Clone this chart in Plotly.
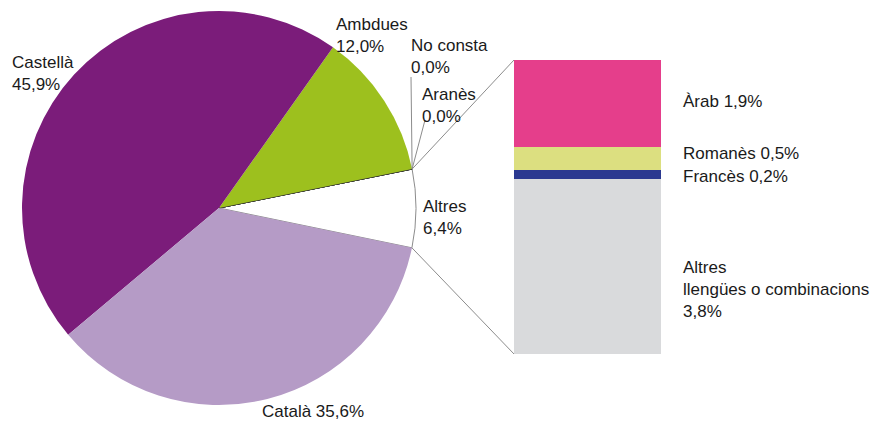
import math
import plotly.graph_objects as go

# pie data (order as drawn, counterclockwise from the "Altres" slice)
pie_labels = ["Altres", "Aranès", "No consta", "Ambdues", "Castellà", "Català"]
pie_values = [6.4, 0.0, 0.0, 12.0, 45.9, 35.6]
pie_colors = ["#ffffff", "#ffffff", "#ffffff", "#9dc01e", "#7b1c7a", "#b59bc6"]

# breakdown of "Altres" (bottom to top)
bar_labels = ["Altres llengües o combinacions", "Francès", "Romanès", "Àrab"]
bar_values = [3.8, 0.2, 0.5, 1.9]
bar_colors = ["#d9dadc", "#2b3990", "#dcdf80", "#e53e8b"]

W, H = 884, 421
FONT = "Liberation Sans, Arial, sans-serif"

# pie geometry in pixels
cx, cy, r = 219, 208, 197
rotation = 78.6

# bar box in pixels
bx0, bx1, by0, by1 = 514, 661, 60, 354


def px(x):
    return x / W


def py(y):
    return 1 - y / H


fig = go.Figure()

fig.add_trace(go.Pie(
    labels=pie_labels,
    values=pie_values,
    sort=False,
    direction="counterclockwise",
    rotation=rotation,
    textinfo="none",
    marker=dict(colors=pie_colors,
                line=dict(color=["#8c8c8c", "#333333", "#333333", "#ffffff", "#ffffff", "#ffffff"],
                          width=[1, 1, 1, 0, 0, 0])),
    domain=dict(x=[px(cx - r), px(cx + r)], y=[py(cy + r), py(cy - r)]),
    hoverinfo="label+value",
))

for lab, val, col in zip(bar_labels, bar_values, bar_colors):
    fig.add_trace(go.Bar(x=[""], y=[val], name=lab, marker=dict(color=col, line=dict(width=0)),
                         width=1, xaxis="x", yaxis="y"))

total = sum(bar_values)

# edges of the "Altres" slice, from the pie values
a_start = math.radians(rotation)
a_end = a_start + 2 * math.pi * pie_values[0] / sum(pie_values)
top_pt = (cx + r * math.sin(a_start), cy - r * math.cos(a_start))
bot_pt = (cx + r * math.sin(a_end), cy - r * math.cos(a_end))

line_style = dict(color="#8c8c8c", width=1)
shapes = [
    dict(type="line", xref="paper", yref="paper", x0=px(top_pt[0]), y0=py(top_pt[1]),
         x1=px(bx0), y1=py(by0), line=line_style),
    dict(type="line", xref="paper", yref="paper", x0=px(bot_pt[0]), y0=py(bot_pt[1]),
         x1=px(bx0), y1=py(by1), line=line_style),
    # leader lines for the zero slices
    dict(type="line", xref="paper", yref="paper", x0=px(top_pt[0]), y0=py(top_pt[1]),
         x1=px(411), y1=py(77), line=line_style),
    dict(type="line", xref="paper", yref="paper", x0=px(top_pt[0]), y0=py(top_pt[1]),
         x1=px(425), y1=py(120), line=line_style),
]


def fmt(v):
    return f"{v:.1f}".replace(".", ",") + "%"


def note(x, y, text):
    return dict(x=px(x), y=py(y), xref="paper", yref="paper", text=text, showarrow=False,
                xanchor="left", yanchor="middle", align="left",
                font=dict(family=FONT, size=17, color="#1a1a1a"))


pv = dict(zip(pie_labels, pie_values))
bv = dict(zip(bar_labels, bar_values))
annotations = [
    note(10, 73, f"Castellà<br>{fmt(pv['Castellà'])}"),
    note(334, 36, f"Ambdues<br>{fmt(pv['Ambdues'])}"),
    note(409, 56, f"No consta<br>{fmt(pv['No consta'])}"),
    note(420, 106, f"Aranès<br>{fmt(pv['Aranès'])}"),
    note(421, 217, f"Altres<br>{fmt(pv['Altres'])}"),
    note(260, 411, f"Català {fmt(pv['Català'])}"),
    note(681, 101, f"Àrab {fmt(bv['Àrab'])}"),
    note(681, 153, f"Romanès {fmt(bv['Romanès'])}"),
    note(681, 176, f"Francès {fmt(bv['Francès'])}"),
    note(681, 289, f"Altres<br>llengües o combinacions<br>{fmt(bv['Altres llengües o combinacions'])}"),
]

fig.update_layout(
    width=W, height=H,
    margin=dict(l=0, r=0, t=0, b=0),
    paper_bgcolor="white", plot_bgcolor="white",
    showlegend=False,
    barmode="stack", bargap=0,
    xaxis=dict(domain=[px(bx0), px(bx1)], range=[-0.5, 0.5], visible=False, fixedrange=True),
    yaxis=dict(domain=[py(by1), py(by0)], range=[0, total], visible=False, fixedrange=True),
    shapes=shapes,
    annotations=annotations,
    font=dict(family=FONT),
)

# the page's default body margin would shift the figure
fig.write_html("out.html", config={"displayModeBar": False},
               post_script="document.body.style.margin='0';")
